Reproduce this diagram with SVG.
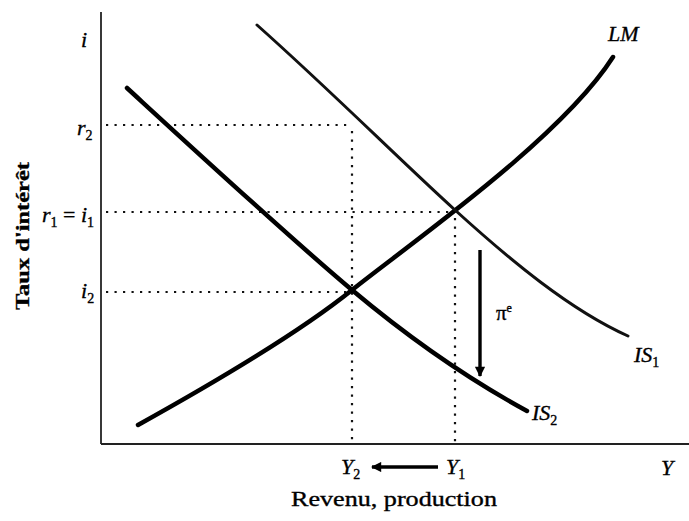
<svg xmlns="http://www.w3.org/2000/svg" width="689" height="521" viewBox="0 0 689 521">
<defs>
<style>
.ax{stroke:#222;stroke-width:1.8;fill:none}
.dot{stroke:#111;stroke-width:2.2;stroke-dasharray:2.2 6.3;fill:none}
.thick{stroke:#000;stroke-width:4.5;fill:none;stroke-linecap:round}
.thin{stroke:#111;stroke-width:3;fill:none;stroke-linecap:round}
.arr{stroke:#000;stroke-width:3.4;fill:none}
text{font-family:"Liberation Serif","DejaVu Serif",serif;fill:#000;stroke:#000;stroke-width:0.35}
.v{font-style:italic;font-size:22px}
.s{font-size:14px;font-style:normal}
</style>
<marker id="ah" viewBox="0 0 10 10" refX="9" refY="5" markerWidth="3.4" markerHeight="3" orient="auto">
<path d="M0,0 L10,5 L0,10 z" fill="#000"/>
</marker>
</defs>
<rect width="689" height="521" fill="#fff"/>
<g id="axes">
<line class="ax" x1="101" y1="12" x2="101" y2="444"/>
<line class="ax" x1="101" y1="444" x2="689" y2="444"/>
</g>
<g id="guides">
<line class="dot" x1="106" y1="125" x2="352" y2="125"/>
<line class="dot" x1="352" y1="131" x2="352" y2="444"/>
<line class="dot" x1="106" y1="212" x2="455" y2="212"/>
<line class="dot" x1="455" y1="218" x2="455" y2="444"/>
<line class="dot" x1="106" y1="292" x2="352" y2="292"/>
</g>
<g id="connectors">
<path id="LM" class="thick" d="M138,425 C210,385 300,332 352,290 S560,140 613,57"/>
<path id="IS2" class="thick" d="M127,88 C200,155 290,238 352,290 S470,380 527,411"/>
<path id="IS1" class="thin" d="M257,25 C330,90 400,160 455,210 S570,310 628,336"/>
<line class="arr" x1="480" y1="250" x2="480" y2="376" marker-end="url(#ah)"/>
<line class="arr" x1="438" y1="467" x2="372" y2="467" marker-end="url(#ah)"/>
</g>
<g id="labels">
<text class="v" x="81" y="47">i</text>
<text class="v" x="77" y="135">r<tspan class="s" dy="5">2</tspan></text>
<text class="v" x="42" y="222">r<tspan class="s" dy="5">1</tspan><tspan dy="-5" font-style="normal"> = </tspan>i<tspan class="s" dy="5">1</tspan></text>
<text class="v" x="81" y="298">i<tspan class="s" dy="5">2</tspan></text>
<text x="29" y="236" font-size="19" font-weight="bold" stroke-width="0" text-anchor="middle" textLength="148" lengthAdjust="spacingAndGlyphs" transform="rotate(-90 29 236)">Taux d'intérêt</text>
<text class="v" x="608" y="41">LM</text>
<text class="v" x="634" y="362">IS<tspan class="s" dy="5">1</tspan></text>
<text class="v" x="532" y="420">IS<tspan class="s" dy="5">2</tspan></text>
<text x="496" y="320" font-size="21">π<tspan font-size="12" dy="-8">e</tspan></text>
<text class="v" x="341" y="474">Y<tspan class="s" dy="5">2</tspan></text>
<text class="v" x="446" y="474">Y<tspan class="s" dy="5">1</tspan></text>
<text class="v" x="661" y="475">Y</text>
<text x="394" y="506" font-size="21" text-anchor="middle" textLength="206" lengthAdjust="spacingAndGlyphs">Revenu, production</text>
</g>
</svg>
